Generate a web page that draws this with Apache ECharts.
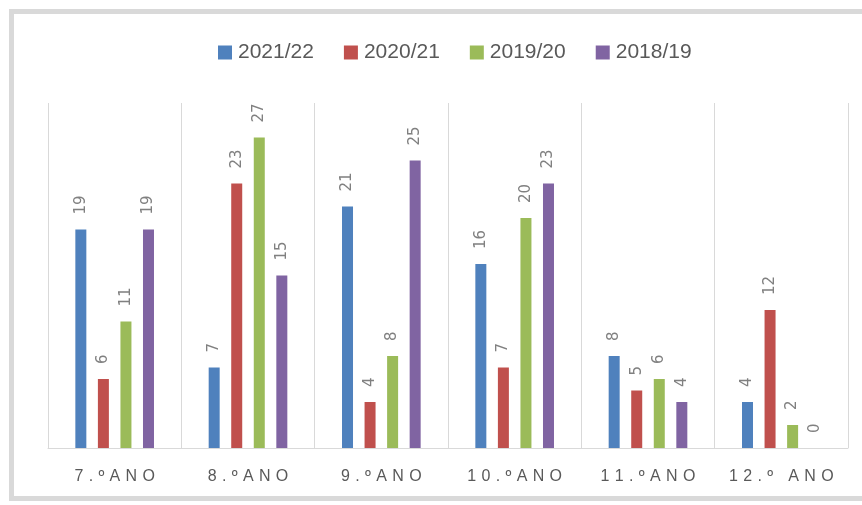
<!DOCTYPE html>
<html>
<head>
<meta charset="utf-8">
<script src="https://cdn.jsdelivr.net/npm/echarts@6/dist/echarts.min.js"></script>
<style>
  html, body { margin: 0; padding: 0; background: #fff; }
  #main { width: 862px; height: 505px; }
</style>
</head>
<body>
<div id="main"></div>
<script>
var categories = ["7.ºANO", "8.ºANO", "9.ºANO", "10.ºANO", "11.ºANO", "12.º ANO"];
var seriesNames = ["2021/22", "2020/21", "2019/20", "2018/19"];
var v2122 = [19, 7, 21, 16, 8, 4];
var v2021 = [6, 23, 4, 7, 5, 12];
var v1920 = [11, 27, 8, 20, 6, 2];
var v1819 = [19, 15, 25, 23, 4, 0];
var colors = ["#4f81bd", "#c0504d", "#9bbb59", "#8064a2"];

var chart = echarts.init(document.getElementById("main"));

function makeSeries(name, data, i) {
    return {
        name: name,
        type: "bar",
        data: data,
        barWidth: 11,
        barGap: "105%",
        itemStyle: { color: colors[i] },
        label: {
            show: true,
            position: "top",
            rotate: 90,
            align: "left",
            verticalAlign: "middle",
            distance: 15,
            color: "#808080",
            fontSize: 15,
            fontFamily: "DejaVu Sans"
        }
    };
}

var option = {
    animation: false,
    backgroundColor: "#fff",
    graphic: [{
        type: "rect",
        shape: { x: 11.5, y: 11.5, width: 900, height: 487 },
        style: { fill: "none", stroke: "#d9d9d9", lineWidth: 5 },
        silent: true
    }],
    legend: {
        top: 37,
        left: 213,
        itemWidth: 14,
        itemHeight: 14,
        itemGap: 30,
        icon: "rect",
        textStyle: { fontSize: 21, color: "#595959", fontFamily: "Liberation Sans, sans-serif", padding: [0, 0, 0, 1] },
        data: seriesNames
    },
    grid: { left: 48, right: 14, top: 103, bottom: 57, containLabel: false },
    xAxis: {
        type: "category",
        data: categories,
        axisTick: { show: false },
        axisLine: { lineStyle: { color: "#d9d9d9", width: 1 } },
        splitLine: { show: true, interval: 0, lineStyle: { color: "#d9d9d9", width: 1 } },
        axisLabel: {
            interval: 0,
            margin: 21,
            fontSize: 16,
            color: "#595959",
            fontFamily: "Liberation Sans",
            // spaced letters as in the original
            formatter: function (v) { return v.split("").join("\u2004"); }
        }
    },
    yAxis: {
        type: "value",
        min: 0,
        max: 30,
        show: false
    },
    series: [
        makeSeries(seriesNames[0], v2122, 0),
        makeSeries(seriesNames[1], v2021, 1),
        makeSeries(seriesNames[2], v1920, 2),
        makeSeries(seriesNames[3], v1819, 3)
    ]
};

chart.setOption(option);
</script>
</body>
</html>
